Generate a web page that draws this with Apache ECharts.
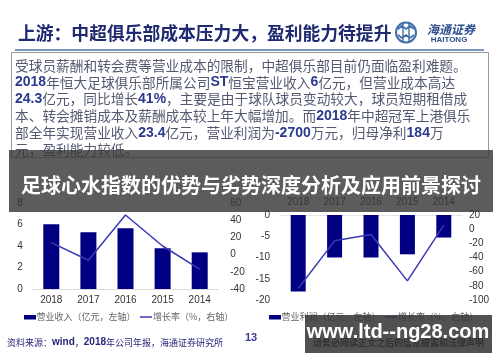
<!DOCTYPE html>
<html><head><meta charset="utf-8">
<script src="https://cdn.jsdelivr.net/npm/echarts@6/dist/echarts.min.js"></script>
<style>html,body{margin:0;padding:0;background:#fff}#c{width:500px;height:362px}</style>
</head><body><div id="c"></div>
<script>
// ---- data ----
const categories = ['2018', '2017', '2016', '2015', '2014'];
const revenue = [6.02, 5.27, 5.65, 3.79, 3.41];          // 营业收入（亿元）
const revenueGrowth = [14, -6.6, 46, 10, -17];           // 增长率（%）
const opProfit = [-18.0, -10.0, -10.0, -9.25, -5.3];     // 营业利润（亿元）
const opProfitGrowth = [-83.7, -16.5, -7.5, -73, 5.6];   // 增长率（%）
const leftTicks1 = { min: 0, max: 8, interval: 2 };
const rightTicks1 = { min: -40, max: 60, interval: 20 };
const leftTicks2 = { min: -20, max: 0, interval: 5 };
const rightTicks2 = { min: -100, max: 20, interval: 20 };

const titleText = '上游：中超俱乐部成本压力大，盈利能力待提升';
const paraLines = [
  '受球员薪酬和转会费等营业成本的限制，中超俱乐部目前仍面临盈利难题。',
  '{n|2018}年恒大足球俱乐部所属公司{n|ST}恒宝营业收入{n|6}亿元，但营业成本高达',
  '{n|24.3}亿元，同比增长{n|41%}，主要是由于球队球员变动较大，球员短期租借成',
  '本、转会摊销成本及薪酬成本较上年大幅增加。而{n|2018}年中超冠军上港俱乐',
  '部全年实现营业收入{n|23.4}亿元，营业利润为{n|-2700}万元，归母净利{n|184}万',
  '元，盈利能力较低。'
];
const bannerText = '足球心水指数的优势与劣势深度分析及应用前景探讨';
const legend1 = ['营业收入（亿元，左轴）', '增长率（%，右轴）'];
const legend2 = ['营业利润（亿元，左轴）', '增长率（%，右轴）'];
const sourceText = '资料来源：{n|wind}，{n|2018}年公司年报，海通证券研究所';
const pageNo = '13';
const watermark = 'www.ltd--ng28.com';
const disclaimer = '请务必阅读正文之后的信息披露和法律声明';

const NAVY = '#000080';
const LINE = '#3a3ab4';
const CJK = '"Noto Sans CJK SC", sans-serif';
const LAT = '"Liberation Sans", Arial, sans-serif';

const chart = echarts.init(document.getElementById('c'), null, { renderer: 'canvas' });

const axisLabel = { fontSize: 10, color: '#333', fontFamily: LAT };
function yAx(grid, t, pos, margin) {
  return {
    type: 'value', gridIndex: grid, position: pos, min: t.min, max: t.max, interval: t.interval,
    axisLine: { show: false }, axisTick: { show: false }, splitLine: { show: false },
    axisLabel: Object.assign({ margin: margin }, axisLabel)
  };
}

const graphics = [];
// title
graphics.push({ type: 'text', x: 18, y: 33, style: { text: titleText, font: 'bold 17.8px ' + CJK, fill: '#1f2a70', textVerticalAlign: 'middle' } });
// logo
graphics.push({ type: 'circle', shape: { cx: 406, cy: 32.5, r: 10 }, style: { fill: 'none', stroke: '#3e6ea8', lineWidth: 2 } });
graphics.push({ type: 'polyline', shape: { points: [[398, 29], [402, 26], [406, 29], [410, 26], [414, 29]] }, style: { fill: 'none', stroke: '#3e6ea8', lineWidth: 1.6 } });
graphics.push({ type: 'polyline', shape: { points: [[398, 35], [402, 38], [406, 35], [410, 38], [414, 35]] }, style: { fill: 'none', stroke: '#3e6ea8', lineWidth: 1.6 } });
graphics.push({ type: 'line', shape: { x1: 403, y1: 24, x2: 403, y2: 41 }, style: { stroke: '#3e6ea8', lineWidth: 1.4 } });
graphics.push({ type: 'line', shape: { x1: 409, y1: 24, x2: 409, y2: 41 }, style: { stroke: '#3e6ea8', lineWidth: 1.4 } });
graphics.push({ type: 'text', x: 451, y: 29, style: { text: '海通证券', font: 'italic bold 12px ' + CJK, fill: '#2d4f8f', textAlign: 'center', textVerticalAlign: 'middle' } });
graphics.push({ type: 'text', x: 449, y: 39.5, style: { text: 'HAITONG', font: 'bold 8px ' + LAT, fill: '#2d4f8f', textAlign: 'center', textVerticalAlign: 'middle' } });
// blue rule
graphics.push({ type: 'line', shape: { x1: 15, y1: 50, x2: 484, y2: 50 }, style: { stroke: '#5273aa', lineWidth: 1.5 } });
// text box
graphics.push({ type: 'rect', shape: { x: 11.5, y: 52.5, width: 477, height: 105 }, style: { fill: 'none', stroke: '#9a9a9a', lineWidth: 1 } });
paraLines.forEach(function (ln, i) {
  graphics.push({ type: 'text', x: 15, y: 65.5 + i * 16.8, style: {
    text: ln, font: '13.7px ' + CJK, fill: '#555970', textVerticalAlign: 'middle',
    rich: { n: { font: 'bold 14px ' + LAT, fill: '#2b3a8f', color: '#2b3a8f' } }
  } });
});
// legends
function legend(x0, labels) {
  graphics.push({ type: 'rect', shape: { x: x0, y: 315, width: 12, height: 4.5 }, style: { fill: NAVY } });
  graphics.push({ type: 'text', x: x0 + 12.5, y: 317, style: { text: labels[0], font: '9px ' + CJK, fill: '#666', textVerticalAlign: 'middle' } });
  graphics.push({ type: 'line', shape: { x1: x0 + 116, y1: 317, x2: x0 + 128, y2: 317 }, style: { stroke: LINE, lineWidth: 1.5 } });
  graphics.push({ type: 'text', x: x0 + 129, y: 317, style: { text: labels[1], font: '9px ' + CJK, fill: '#666', textVerticalAlign: 'middle' } });
}
legend(24, legend1);
legend(269, legend2);
// footer
graphics.push({ type: 'text', x: 7, y: 342.5, style: {
  text: sourceText, font: '9px ' + CJK, fill: '#26267a', textVerticalAlign: 'middle',
  rich: { n: { font: 'bold 10px ' + LAT, fill: '#26267a', color: '#26267a' } }
} });
graphics.push({ type: 'text', x: 245, y: 338, style: { text: pageNo, font: 'bold 11px ' + LAT, fill: '#3a3a9a', textVerticalAlign: 'middle' } });
graphics.push({ type: 'text', x: 313, y: 342.5, style: { text: disclaimer, font: 'bold 9px ' + CJK, fill: '#222', textVerticalAlign: 'middle' } });
// overlays
graphics.push({ type: 'rect', z: 100, shape: { x: 9, y: 150, width: 484, height: 62 }, style: { fill: 'rgba(56,56,56,0.82)' } });
graphics.push({ type: 'text', z: 101, x: 251, y: 185, style: { text: bannerText, font: 'bold 20px ' + CJK, fill: '#fff', textAlign: 'center', textVerticalAlign: 'middle' } });
graphics.push({ type: 'rect', z: 100, shape: { x: 305, y: 315, width: 187, height: 38 }, style: { fill: 'rgba(52,52,52,0.86)' } });
graphics.push({ type: 'text', z: 101, x: 398, y: 332, style: { text: watermark, font: 'bold 20px ' + LAT, fill: '#fff', textAlign: 'center', textVerticalAlign: 'middle' } });

chart.setOption({
  animation: false,
  backgroundColor: '#fff',
  grid: [
    { left: 32.75, width: 185.5, top: 203, height: 86 },
    { left: 280, width: 182, top: 215, height: 85 }
  ],
  xAxis: [
    { type: 'category', gridIndex: 0, data: categories, axisTick: { show: false },
      axisLine: { lineStyle: { color: '#dcdcdc' } }, axisLabel: Object.assign({ margin: 6 }, axisLabel) },
    { type: 'category', gridIndex: 1, position: 'top', data: categories, axisTick: { show: false },
      axisLine: { onZero: false, lineStyle: { color: '#e4e4e4' } }, axisLabel: Object.assign({ margin: 8 }, axisLabel) }
  ],
  yAxis: [
    yAx(0, leftTicks1, 'left', 10),
    yAx(0, rightTicks1, 'right', 12),
    yAx(1, leftTicks2, 'left', 10),
    yAx(1, rightTicks2, 'right', 7)
  ],
  series: [
    { type: 'bar', xAxisIndex: 0, yAxisIndex: 0, data: revenue, barWidth: 16, itemStyle: { color: NAVY } },
    { type: 'line', xAxisIndex: 0, yAxisIndex: 1, data: revenueGrowth, symbol: 'none', lineStyle: { color: LINE, width: 1.5 } },
    { type: 'bar', xAxisIndex: 1, yAxisIndex: 2, data: opProfit, barWidth: 15, itemStyle: { color: NAVY } },
    { type: 'line', xAxisIndex: 1, yAxisIndex: 3, data: opProfitGrowth, symbol: 'none', lineStyle: { color: LINE, width: 1.5 } }
  ],
  graphic: { elements: graphics }
});
</script></body></html>
